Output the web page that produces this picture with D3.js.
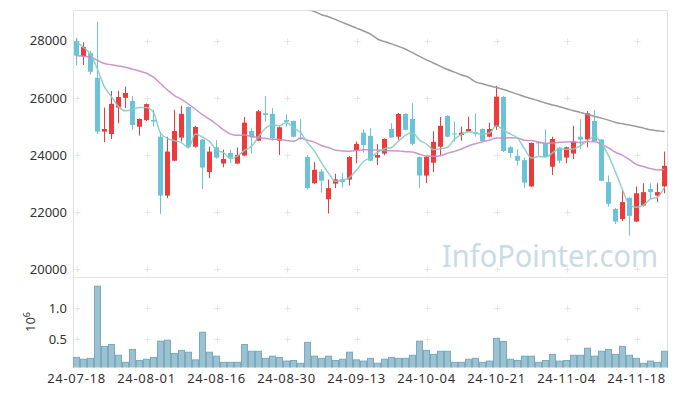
<!DOCTYPE html>
<html>
<head>
<meta charset="utf-8">
<script src="https://cdn.jsdelivr.net/npm/d3@7/dist/d3.min.js"></script>
<style>
body { margin: 0; background: #fff; }
text { font-family: "Noto Sans", sans-serif; }
</style>
</head>
<body>
<svg id="chart"></svg>
<script>
// trading days shown on the chart
const dates = ['24-07-18','24-07-19','24-07-22','24-07-23','24-07-24','24-07-25','24-07-26','24-07-29','24-07-30','24-07-31',
  '24-08-01','24-08-02','24-08-05','24-08-06','24-08-07','24-08-08','24-08-09','24-08-12','24-08-13','24-08-14',
  '24-08-16','24-08-19','24-08-20','24-08-21','24-08-22','24-08-23','24-08-26','24-08-27','24-08-28','24-08-29',
  '24-08-30','24-09-02','24-09-03','24-09-04','24-09-05','24-09-06','24-09-09','24-09-10','24-09-11','24-09-12',
  '24-09-13','24-09-19','24-09-20','24-09-23','24-09-24','24-09-25','24-09-26','24-09-27','24-09-30','24-10-02',
  '24-10-04','24-10-07','24-10-08','24-10-10','24-10-11','24-10-14','24-10-15','24-10-16','24-10-17','24-10-18',
  '24-10-21','24-10-22','24-10-23','24-10-24','24-10-25','24-10-28','24-10-29','24-10-30','24-10-31','24-11-01',
  '24-11-04','24-11-05','24-11-06','24-11-07','24-11-08','24-11-11','24-11-12','24-11-13','24-11-14','24-11-15',
  '24-11-18','24-11-19','24-11-20','24-11-21','24-11-22']

const opens = [27990,27465,27560,26700,24820,24730,25660,26000,25890,24990,
  25220,25230,24640,22580,23800,24610,25680,24290,24540,23400,
  24270,23700,24070,23700,23980,24840,24500,25460,25440,24500,
  25220,25190,24610,23930,23010,23420,22450,23000,23150,23140,
  24150,24780,24670,23910,24050,24910,24640,25440,25260,23930,
  23280,23730,24290,25370,24750,24700,24820,24800,24910,24640,
  24980,26030,24270,23970,23820,22900,24440,24420,23590,24260,
  23910,24050,24640,24540,25190,24540,23050,22110,21760,22500,
  21670,22230,22810,22580,22900]
const highs = [28110,27945,27650,28660,25660,26240,26250,26390,26060,25280,
  25800,25580,24800,24640,25580,25720,25700,25020,24560,24290,
  24520,24190,24180,24260,25330,24940,25580,26070,25640,25000,
  25430,25210,25250,24000,23750,23510,23140,23340,23380,23960,
  24470,24900,24940,24380,24580,25110,25470,25460,25810,23950,
  23960,24830,25330,25390,25170,24990,25340,25460,24930,25130,
  26420,26070,24320,24200,23910,24440,24470,24900,24640,24280,
  24290,25020,25250,25540,25580,24560,23280,22140,22750,22520,
  22900,23010,23010,23010,24120]
const lows = [27130,27150,26810,24730,24450,24560,25110,25640,24880,24680,
  25190,24990,21940,22490,23780,24470,24250,24260,22810,23190,
  23880,23570,23720,23680,23960,24060,24480,25170,24500,24000,
  24990,24620,24540,22800,22990,22680,21950,22840,22860,22930,
  23710,24080,23780,23650,23990,24590,24530,24860,24350,22840,
  23010,23400,24000,24620,24470,24500,24800,24640,24470,24620,
  24880,24100,23910,23630,22840,22880,23980,23930,23300,23710,
  23710,23860,24200,24270,24470,23090,22200,21580,21690,21180,
  21650,22200,22460,22350,22660]
const closes = [27480,27780,26915,24820,24910,25790,26030,26170,25050,25260,
  25780,25170,22580,24120,24840,25440,24290,24980,23560,24120,
  23910,23860,23910,24000,25130,24620,25530,25400,24590,24970,
  25160,24640,24560,22840,23480,23100,22840,23150,23050,23930,
  24390,24350,23800,24000,24560,24610,25440,24880,24390,23280,
  23930,24460,25020,24640,24720,24780,24910,24750,24490,24910,
  26040,24140,24070,23800,23030,24420,24420,23940,24560,23800,
  24270,24470,24540,25460,24490,23100,22290,21670,22350,21870,
  22660,22700,22700,22700,23620]

// volume, millions of shares
const volumes = [0.20,0.17,0.185,1.36,0.38,0.41,0.235,0.12,0.33,0.15,
  0.17,0.20,0.465,0.48,0.265,0.315,0.285,0.16,0.61,0.285,
  0.22,0.12,0.12,0.12,0.41,0.30,0.30,0.185,0.22,0.20,
  0.14,0.15,0.105,0.445,0.22,0.185,0.22,0.15,0.17,0.285,
  0.16,0.14,0.185,0.105,0.17,0.20,0.185,0.185,0.235,0.465,
  0.315,0.25,0.30,0.30,0.12,0.12,0.17,0.185,0.12,0.14,
  0.51,0.46,0.17,0.15,0.22,0.22,0.12,0.15,0.25,0.14,
  0.15,0.235,0.235,0.35,0.22,0.30,0.33,0.25,0.38,0.235,
  0.185,0.105,0.14,0.12,0.30]

// moving averages whose window reaches back before the first day
const ma5Lead = [27970,27760,27530,27000]
const ma20Lead = [27470,27455,27430,27310,27200,27160,27117,27070,27005,26940,
  26860,26725,26500,26270,26080,25950,25780,25600,25410]
// long average line, starts at day 33
const maLongStart = 33
const maLong = [29080,29020,28910,28840,28740,28640,28540,28440,28340,28230,
  28060,27970,27890,27800,27700,27580,27450,27330,27220,27100,
  26990,26900,26800,26720,26560,26490,26420,26360,26290,26210,
  26130,26040,25970,25900,25820,25750,25690,25620,25550,25490,
  25420,25350,25290,25220,25140,25090,25050,25000,24940,24880,
  24850,24820]

const priceTicks = [20000, 22000, 24000, 26000, 28000]
const volTicks = [0.5, 1.0]

const width = 677
const height = 396

const graph = d3.select('#chart')
  .attr('width', width)
  .attr('height', height)

const n = dates.length
const x_scale = d3.scaleBand().domain(d3.range(n)).range([73, 668]).padding(0)
const y_scale = d3.scaleLinear().domain([19740, 29050]).range([276.7, 10.7])
const v_scale = d3.scaleLinear().domain([0, 1.5]).range([369.7, 277.6])
const cx = i => x_scale(i) + x_scale.bandwidth() / 2

// moving averages
const ma5 = d3.range(n).map(i => i < 4 ? ma5Lead[i] : d3.mean(closes.slice(i - 4, i + 1)))
const ma20 = d3.range(n).map(i => i < 19 ? ma20Lead[i] : d3.mean(closes.slice(i - 19, i + 1)))
const maL = d3.range(n).map(i => i < maLongStart ? null : maLong[i - maLongStart])

const defs = graph.append('defs')
defs.append('clipPath').attr('id', 'clipPrice')
  .append('rect').attr('x', 73).attr('y', 10.7).attr('width', 595).attr('height', 266)
defs.append('clipPath').attr('id', 'clipVol')
  .append('rect').attr('x', 73).attr('y', 277.5).attr('width', 595).attr('height', 90)

// watermark
graph.append('text')
  .attr('x', 442).attr('y', 267)
  .attr('textLength', 216).attr('lengthAdjust', 'spacingAndGlyphs')
  .style('font-size', '31px')
  .style('fill', '#c9dbe4')
  .text('InfoPointer.com')

// frame
const frame = graph.append('g').style('stroke', '#e2e2e2').style('fill', 'none')
frame.append('line').attr('x1', 73.5).attr('x2', 73.5).attr('y1', 10.5).attr('y2', 368)
frame.append('line').attr('x1', 73.5).attr('x2', 667.5).attr('y1', 10.5).attr('y2', 10.5)
frame.append('line').attr('x1', 667.5).attr('x2', 667.5).attr('y1', 10.5).attr('y2', 368)
frame.append('line').attr('x1', 73.5).attr('x2', 667.5).attr('y1', 277.5).attr('y2', 277.5)

// small crosses at tick intersections
const xTicks = d3.range(0, n, 10)
const crossRows = priceTicks.map(p => y_scale(p)).concat(volTicks.map(v => v_scale(v)))
const crosses = graph.append('g').style('stroke', '#e6e6e6').style('stroke-width', 1)
xTicks.forEach(i => {
  crossRows.forEach(ry => {
    const px = Math.round(cx(i)) + 0.5
    const py = Math.round(ry) + 0.5
    crosses.append('line').attr('x1', px - 3).attr('x2', px + 3).attr('y1', py).attr('y2', py)
    crosses.append('line').attr('x1', px).attr('x2', px).attr('y1', py - 3).attr('y2', py + 3)
  })
})

// candles
const upColor = '#ee3a3a'
const downColor = '#6bc3d8'
const candles = graph.append('g').attr('clip-path', 'url(#clipPrice)')
  .selectAll('g')
  .data(d3.range(n))
  .enter()
  .append('g')
  .style('fill', i => closes[i] >= opens[i] ? upColor : downColor)
  .style('stroke', i => closes[i] >= opens[i] ? upColor : downColor)

candles.append('line')
  .attr('x1', i => cx(i)).attr('x2', i => cx(i))
  .attr('y1', i => y_scale(highs[i]))
  .attr('y2', i => y_scale(lows[i]))
  .style('stroke-width', 1)

candles.append('rect')
  .attr('x', i => cx(i) - 2.5)
  .attr('width', 5)
  .attr('y', i => y_scale(Math.max(opens[i], closes[i])))
  .attr('height', i => Math.max(1, y_scale(Math.min(opens[i], closes[i])) - y_scale(Math.max(opens[i], closes[i]))))
  .style('stroke', 'none')

// moving average lines
const line = d3.line()
  .defined(d => d != null)
  .x((d, i) => cx(i))
  .y(d => y_scale(d))
  .curve(d3.curveMonotoneX)

const maG = graph.append('g').attr('clip-path', 'url(#clipPrice)').style('fill', 'none')
maG.append('path').attr('d', line(maL)).style('stroke', '#9a9a9a').style('stroke-width', 1.5)
maG.append('path').attr('d', line(ma20)).style('stroke', '#c98bc8').style('stroke-width', 1.5).style('opacity', 0.9)
maG.append('path').attr('d', line(ma5)).style('stroke', '#86ccc2').style('stroke-width', 1.5).style('opacity', 0.9)

// volume bars
graph.append('g').attr('clip-path', 'url(#clipVol)')
  .selectAll('rect')
  .data(volumes)
  .enter()
  .append('rect')
  .attr('x', (d, i) => x_scale(i) + 0.5)
  .attr('width', x_scale.bandwidth() - 1)
  .attr('y', d => v_scale(d))
  .attr('height', d => v_scale(0) - v_scale(d))
  .style('fill', '#9cc1d1')
  .style('stroke', '#7ba9bf')
  .style('stroke-width', 1)

// axes
const y_axis = d3.axisLeft(y_scale).tickValues(priceTicks).tickSize(0).tickPadding(6).tickFormat(d3.format('d'))
const v_axis = d3.axisLeft(v_scale).tickValues(volTicks).tickSize(0).tickPadding(6).tickFormat(d3.format('.1f'))
const x_axis = d3.axisBottom(x_scale).tickValues(xTicks).tickSize(0).tickPadding(6).tickFormat(i => dates[i])

const styleAxis = g => {
  g.select('.domain').remove()
  g.selectAll('text').style('font-size', '13px').style('fill', '#333').style('font-family', '"Noto Sans", sans-serif')
}

graph.append('g').attr('transform', 'translate(73,0)').call(y_axis).call(styleAxis)
graph.append('g').attr('transform', 'translate(73,0)').call(v_axis).call(styleAxis)
graph.append('g').attr('transform', 'translate(0,367.5)').call(x_axis).call(styleAxis)
  .selectAll('text').style('letter-spacing', '0.7px')

// volume unit
const unit = graph.append('text')
  .attr('transform', 'translate(35,322) rotate(-90)')
  .attr('text-anchor', 'middle')
  .style('font-size', '13px')
  .style('fill', '#333')
unit.append('tspan').text('10')
unit.append('tspan').attr('dy', -5).style('font-size', '9px').text('6')
</script>
</body>
</html>
